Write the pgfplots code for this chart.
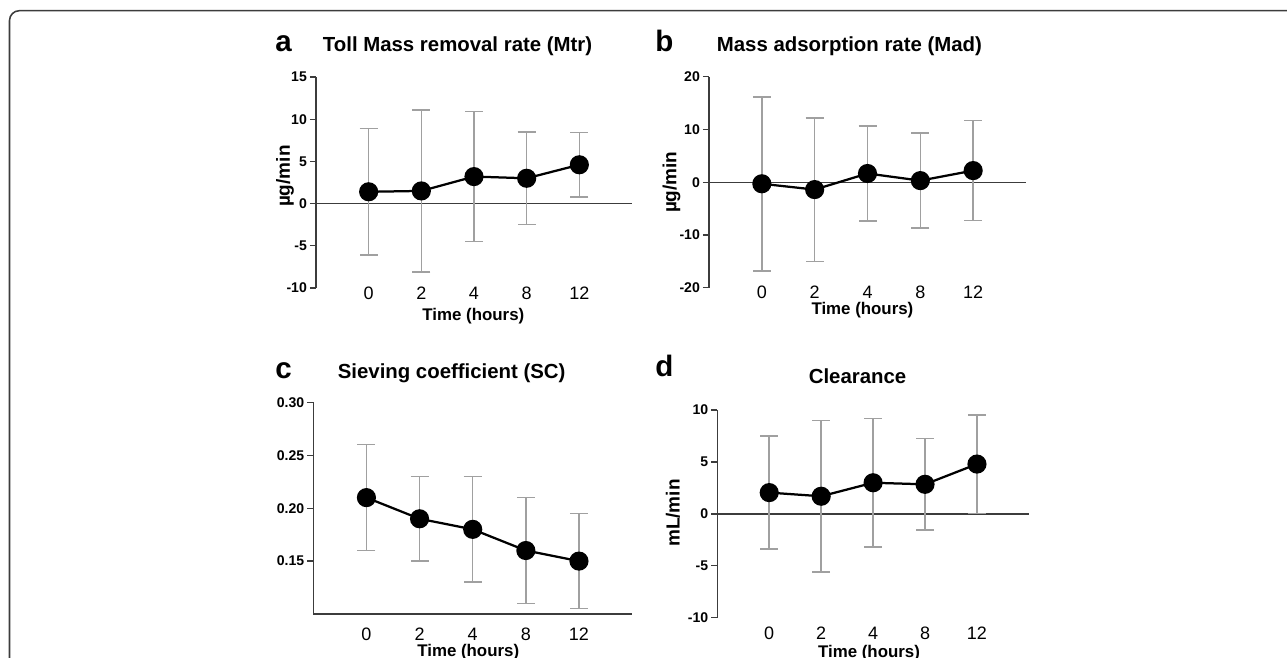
\documentclass[border=0pt]{standalone}
\usepackage{pgfplots}
\usepackage{pgfplotstable}
\usepackage{fontspec}
\setmainfont{Liberation Sans}
\pgfplotsset{compat=1.18}
\definecolor{axisgray}{HTML}{3C3C3C}
\definecolor{errgray}{HTML}{A0A0A0}

% mean and SD at 0, 2, 4, 8, 12 h
\pgfplotstableread{
x y e
0 1.4 7.5
1 1.5 9.6
2 3.2 7.7
3 3.0 5.5
4 4.6 3.8
}\mtr
\pgfplotstableread{
x y e
0 -0.3 16.5
1 -1.4 13.6
2 1.65 9.0
3 0.3 9.0
4 2.2 9.5
}\mad
\pgfplotstableread{
x y e
0 0.21 0.05
1 0.19 0.04
2 0.18 0.05
3 0.16 0.05
4 0.15 0.045
}\sc
\pgfplotstableread{
x y e
0 2.05 5.45
1 1.7 7.3
2 3.0 6.2
3 2.85 4.4
4 4.8 4.75
}\clr

\pgfplotsset{
  panel/.style={
    scale only axis,
    anchor=south west,
    xmin=-1, xmax=5,
    xtick={0,1,2,3,4},
    xticklabels={0,2,4,8,12},
    axis y line*=left,
    axis x line*=bottom,
    axis line style={axisgray, line width=0.9pt},
    tick align=outside,
    major tick length=4.3pt,
    ytick style={axisgray, line width=0.9pt},
    xtick style={draw=none},
    /pgf/number format/assume math mode=true,
    yticklabel style={font=\bfseries\fontsize{10}{12}\selectfont, inner sep=2pt},
    xticklabel style={font=\fontsize{12.8}{15}\selectfont, text height=9.2pt, text depth=0pt},
    xlabel={Time (hours)},
    title style={font=\bfseries\fontsize{14.5}{17}\selectfont, anchor=base, yshift=0pt},
    xlabel style={font=\bfseries\fontsize{12}{14}\selectfont, anchor=base},
    ylabel style={font=\bfseries\fontsize{13.5}{16}\selectfont, anchor=center},
  },
  meanline/.style={
    black, line width=1.6pt, mark=*, mark size=6pt,
    mark options={fill=black, draw=black},
    error bars/.cd, y dir=both, y explicit,
    error bar style={errgray, line width=1.1pt},
    error mark options={rotate=90, errgray, mark size=6.4pt, line width=1.1pt},
  },
  zeroline/.style={axisgray, line width=0.9pt, forget plot},
}
\newcommand{\px}{0.25mm}

\begin{document}
\begin{tikzpicture}[x=0.25mm, y=0.25mm]
\useasboundingbox (0,0) rectangle (1287,658);
\clip (0,0) rectangle (1287,658);
\draw[axisgray, line width=1.1pt, rounded corners=7] (9.5,-30) -- (9.5,647.3) -- (1320,647.3);

% a
\begin{axis}[panel,
  at={(316*\px,370*\px)}, width=79mm, height=52.75mm,
  ymin=-10, ymax=15, ytick={-10,-5,0,5,10,15},
  x axis line style={draw=none},
  xticklabel style={yshift=8.5pt},
  title={Toll Mass removal rate (Mtr)},
  title style={at={(axis description cs:0.448,1.080)}},
  xlabel style={at={(axis description cs:0.498,-0.152)}},
  ylabel={µg/min},
  ylabel style={at={(axis description cs:-0.098,0.53)}},
]
\addplot[zeroline] coordinates {(-1,0) (5,0)};
\addplot[meanline] table[x=x, y=y, y error=e] {\mtr};
\end{axis}

% b
\begin{axis}[panel,
  at={(709*\px,370.3*\px)}, width=79.25mm, height=52.75mm,
  ymin=-20, ymax=20, ytick={-20,-10,0,10,20},
  x axis line style={draw=none},
  xticklabel style={yshift=9pt},
  title={Mass adsorption rate (Mad)},
  title style={at={(axis description cs:0.443,1.080)}},
  xlabel style={at={(axis description cs:0.484,-0.125)}},
  ylabel={µg/min},
  ylabel style={at={(axis description cs:-0.118,0.5)}},
]
\addplot[zeroline] coordinates {(-1,0) (5,0)};
\addplot[meanline] table[x=x, y=y, y error=e] {\mad};
\end{axis}

% c
\begin{axis}[panel,
  at={(313.3*\px,44*\px)}, width=79.7mm, height=52.9mm,
  ymin=0.10, ymax=0.30, ytick={0.15,0.20,0.25,0.30},
  yticklabel style={/pgf/number format/.cd, fixed, fixed zerofill, precision=2},
  xticklabel style={yshift=-1.5pt},
  title={Sieving coefficient (SC)},
  title style={at={(axis description cs:0.434,1.075)}},
  xlabel style={at={(axis description cs:0.486,-0.2)}},
]
\addplot[meanline] table[x=x, y=y, y error=e] {\sc};
\end{axis}

% d
\begin{axis}[panel,
  at={(717.3*\px,40.3*\px)}, width=77.9mm, height=51.9mm,
  ymin=-10, ymax=10, ytick={-10,-5,0,5,10},
  x axis line style={draw=none},
  xticklabel style={yshift=1.5pt},
  title={Clearance},
  title style={at={(axis description cs:0.45,1.089)}},
  xlabel style={at={(axis description cs:0.487,-0.19)}},
  ylabel={mL/min},
  ylabel style={at={(axis description cs:-0.142,0.504)}},
]
\addplot[zeroline] coordinates {(-1,0) (5,0)};
\addplot[meanline] table[x=x, y=y, y error=e] {\clr};
\end{axis}

\node[anchor=base west, font=\bfseries\fontsize{21}{24}\selectfont, inner sep=0pt] at (275,606.3) {a};
\node[anchor=base west, font=\bfseries\fontsize{21}{24}\selectfont, inner sep=0pt] at (655,606.3) {b};
\node[anchor=base west, font=\bfseries\fontsize{21}{24}\selectfont, inner sep=0pt] at (275,279.7) {c};
\node[anchor=base west, font=\bfseries\fontsize{21}{24}\selectfont, inner sep=0pt] at (655,281.3) {d};
\end{tikzpicture}
\end{document}
